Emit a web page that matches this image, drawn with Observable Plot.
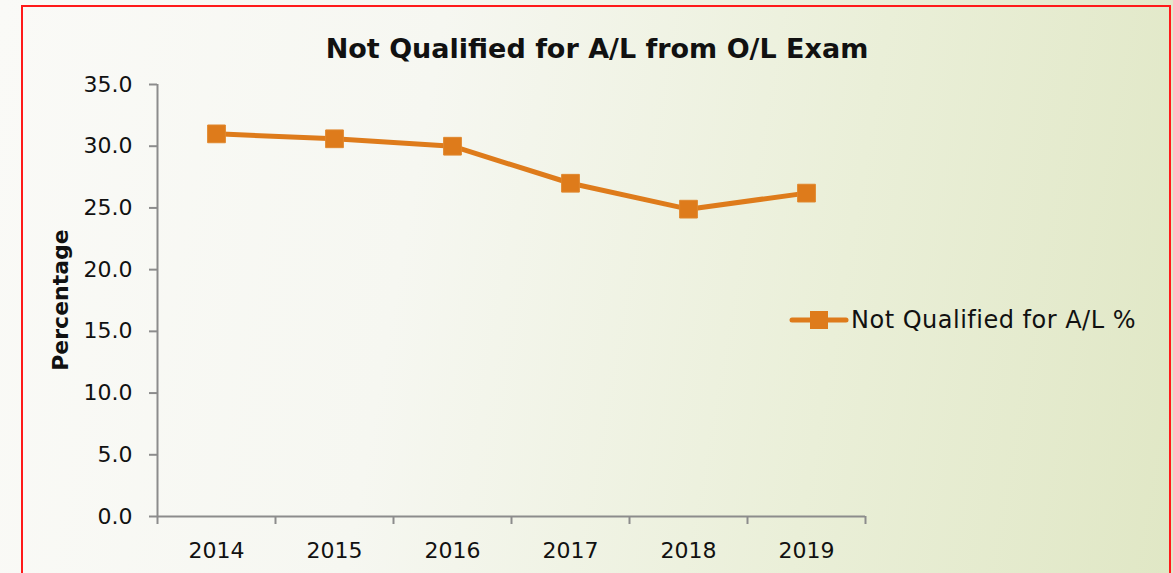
<!DOCTYPE html>
<html>
<head>
<meta charset="utf-8">
<script src="https://cdn.jsdelivr.net/npm/d3@7"></script>
<script src="https://cdn.jsdelivr.net/npm/@observablehq/plot@0.6"></script>
<style>
  html, body { margin: 0; padding: 0; width: 1173px; height: 573px; overflow: hidden; }
  body { background: linear-gradient(100deg, #fafaf7 0%, #f6f7f1 35%, #eaefd8 70%, #e0e7c5 100%); position: relative; font-family: "DejaVu Sans", sans-serif; }
  #frame { position: absolute; left: 21px; top: 5px; width: 1150px; height: 600px; border: 2px solid #ff1a1a; box-sizing: border-box; }
  #chart { position: absolute; left: 0; top: 0; }
  #chart svg { background: transparent; overflow: visible; }
</style>
</head>
<body>
<div id="frame"></div>
<div id="chart"></div>
<script>
const years = [2014, 2015, 2016, 2017, 2018, 2019];
const values = [31.0, 30.6, 30.0, 27.0, 24.9, 26.2];
const yTicks = [0, 5, 10, 15, 20, 25, 30, 35];
const title = "Not Qualified for A/L from O/L Exam";
const yLabel = "Percentage";
const seriesName = "Not Qualified for A/L %";

const data = years.map((y, i) => ({year: y, value: values[i]}));
const boundaries = [years[0] - 0.5, ...years.map(y => y + 0.5)];
const orange = "#de7b1b";
const axisGray = "#8c8c8c";

const W = 1173, H = 573;

const plot = Plot.plot({
  width: W,
  height: H,
  marginLeft: 157,
  marginRight: 308,
  marginTop: 84,
  marginBottom: 57,
  style: {background: "transparent", fontFamily: "DejaVu Sans, sans-serif", overflow: "visible"},
  x: {type: "linear", domain: [boundaries[0], boundaries[boundaries.length - 1]], axis: null},
  y: {type: "linear", domain: [0, 35], axis: null},
  marks: [
    // y axis line, short outward ticks, labels
    Plot.ruleX([boundaries[0]], {x: d => d, stroke: axisGray, strokeWidth: 2}),
    Plot.ruleY(yTicks, {y: d => d, x1: boundaries[0], x2: boundaries[0], insetLeft: -8, stroke: axisGray, strokeWidth: 2}),
    Plot.text(yTicks, {y: d => d, frameAnchor: "left", text: d => d.toFixed(1), textAnchor: "end", dx: -25, fontSize: 22, fill: "#111"}),
    // x axis line, boundary ticks, labels
    Plot.ruleY([0], {y: d => d, stroke: axisGray, strokeWidth: 2}),
    Plot.ruleX(boundaries, {x: d => d, y1: 0, y2: 0, insetBottom: -8, stroke: axisGray, strokeWidth: 2}),
    Plot.text(years, {x: d => d, y: 0, text: d => String(d), dy: 34, fontSize: 22, fill: "#111"}),
    // data
    Plot.line(data, {x: "year", y: "value", stroke: orange, strokeWidth: 5}),
    Plot.dot(data, {x: "year", y: "value", symbol: "square", r: 10, fill: orange, stroke: "#e0872d", strokeWidth: 1})
  ]
});

const svg = d3.select(plot);
// title
svg.append("text").attr("x", 597).attr("y", 58)
  .attr("text-anchor", "middle").attr("font-size", 27).attr("font-weight", "bold")
  .attr("fill", "#111").text(title);
// y label
svg.append("text").attr("transform", `translate(68,300) rotate(-90)`)
  .attr("text-anchor", "middle").attr("font-size", 22).attr("font-weight", "bold")
  .attr("fill", "#111").text(yLabel);
// legend
const lg = svg.append("g").attr("transform", "translate(792,320)");
lg.append("line").attr("x1", 0).attr("x2", 54).attr("y1", 0).attr("y2", 0)
  .attr("stroke", orange).attr("stroke-width", 5).attr("stroke-linecap", "round");
lg.append("rect").attr("x", 18).attr("y", -9).attr("width", 18).attr("height", 18).attr("fill", orange);
lg.append("text").attr("x", 59).attr("y", 0).attr("dy", "0.35em").attr("font-size", 24)
  .attr("text-anchor", "start").attr("letter-spacing", "0.5px")
  .attr("fill", "#111").text(seriesName);

document.getElementById("chart").appendChild(plot);
</script>
</body>
</html>
